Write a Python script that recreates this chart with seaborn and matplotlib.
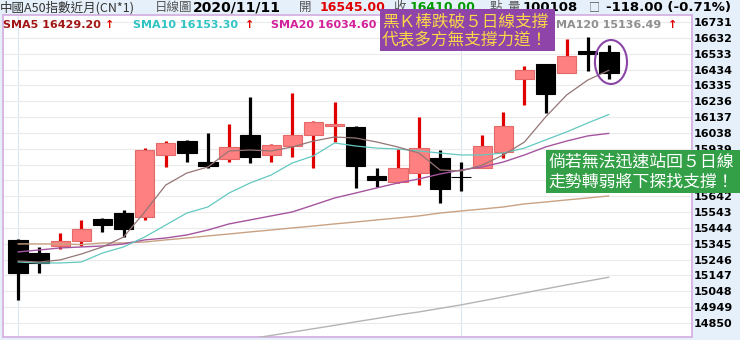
import numpy as np
import pandas as pd
import matplotlib
matplotlib.use("Agg")
import matplotlib.pyplot as plt
import seaborn as sns
from matplotlib.patches import Ellipse, Rectangle

# ---------------- data ----------------
opens  = [15368, 15287, 15331, 15362, 15500, 15537, 15512, 15900, 15987, 15856,
          15875, 16025, 15900, 15956, 16025, 16081, 16075, 15768, 15731, 15787,
          15881, 15764, 15818, 15918, 16375, 16468, 16412, 16550, 16545]
highs  = [15375, 15325, 15412, 15493, 15506, 15556, 15943, 15987, 15994, 16037,
          16093, 16262, 15969, 16287, 16112, 16231, 16081, 15818, 15937, 16137,
          15931, 15856, 16025, 16168, 16456, 16468, 16625, 16637, 16587]
lows   = [14994, 15162, 15312, 15331, 15418, 15387, 15493, 15825, 15856, 15818,
          15856, 15850, 15856, 15887, 15818, 15981, 15693, 15700, 15725, 15712,
          15600, 15675, 15818, 15881, 16212, 16162, 16412, 16425, 16375]
closes = [15162, 15225, 15362, 15437, 15462, 15437, 15931, 15975, 15912, 15831,
          15950, 15887, 15962, 16025, 16106, 16093, 15831, 15744, 15818, 15943,
          15687, 15760, 15956, 16081, 16431, 16281, 16518, 16528, 16410]

sma5   = [15237, 15231, 15244, 15281, 15325, 15387, 15543, 15712, 15787, 15825,
          15925, 15931, 15925, 15950, 15987, 16012, 16006, 15981, 15950, 15912,
          15806, 15800, 15837, 15900, 15981, 16137, 16275, 16368, 16429]
sma10  = [15231, 15225, 15225, 15231, 15287, 15325, 15387, 15462, 15537, 15575,
          15662, 15725, 15775, 15850, 15894, 15975, 15956, 15943, 15937, 15925,
          15912, 15900, 15900, 15912, 15943, 15994, 16044, 16100, 16153]
sma20  = [15294, 15306, 15319, 15325, 15331, 15344, 15369, 15381, 15400, 15431,
          15469, 15494, 15519, 15544, 15587, 15631, 15662, 15694, 15725, 15750,
          15781, 15806, 15825, 15856, 15900, 15950, 15987, 16019, 16035]
sma60  = [15344, 15344, 15344, 15340, 15350, 15350, 15356, 15369, 15381, 15394,
          15406, 15419, 15431, 15444, 15456, 15469, 15481, 15494, 15506, 15519,
          15537, 15550, 15562, 15575, 15594, 15606, 15619, 15631, 15644]
sma120 = [np.nan] * 11 + [14752, 14772, 14793, 14814, 14835, 14857, 14878, 14900,
          14919, 14941, 14963, 14988, 15013, 15038, 15063, 15088, 15112, 15136]

ytick_values = [16731, 16632, 16533, 16434, 16335, 16236, 16137, 16038, 15939, 15840,
                15741, 15642, 15543, 15444, 15345, 15246, 15147, 15048, 14949, 14850]
hidden_ticks = [15840, 15741]   # covered by the green note in the reference

legend_names  = ["SMA5", "SMA10", "SMA20", "SMA120"]
legend_values = ["16429.20", "16153.30", "16034.60", "15136.49"]

title_name   = "中國A50指數近月(CN*1)"
title_kind   = "日線圖"
title_date   = "2020/11/11"
title_open   = "16545.00"
title_close  = "16410.00"
title_volume = "100108"
title_change = "-118.00 (-0.71%)"

note1 = ["黑Ｋ棒跌破５日線支撐", "代表多方無支撐力道！"]
note2 = ["倘若無法迅速站回５日線", "走勢轉弱將下探找支撐！"]

# ---------------- style ----------------
sns.set_theme(style="white")
plt.rcParams["font.family"] = ["DejaVu Sans", "Noto Sans CJK TC"]
CJK = ["Noto Sans CJK TC", "DejaVu Sans"]

W, H = 740, 340
fig = plt.figure(figsize=(W / 100, H / 100), dpi=100, facecolor="#e6f0fa")


def fx(x):
    return x / W


def fy(y):
    return 1 - y / H


ax = fig.add_axes([fx(3), 3 / H, 689 / W, 322 / H])
ax.set_facecolor("white")

n = len(closes)
idx = np.arange(n)
df = pd.DataFrame({"i": idx, "open": opens, "high": highs, "low": lows, "close": closes})
up = df["close"] >= df["open"]

# grid
ax.set_yticks(ytick_values)
ax.set_yticklabels(["" if v in hidden_ticks else str(v) for v in ytick_values])
ax.yaxis.grid(True, color="#ebebeb", lw=0.8, zorder=0)
for gx in (0, 21):
    ax.axvline(gx, color="#d9e6ef", lw=0.8, zorder=0.5)

# wicks
ax.vlines(df.loc[up, "i"], df.loc[up, "low"], df.loc[up, "high"], color="#e00000", lw=2.3, zorder=2)
ax.vlines(df.loc[~up, "i"], df.loc[~up, "low"], df.loc[~up, "high"], color="black", lw=2.3, zorder=2)

# bodies
bw = 0.92
ax.bar(df.loc[up, "i"], (df.loc[up, "close"] - df.loc[up, "open"]).abs(),
       bottom=df.loc[up, ["open", "close"]].min(axis=1), width=bw,
       color="#ff8080", edgecolor="#e46a6a", lw=0.8, zorder=3)
ax.bar(df.loc[~up, "i"], (df.loc[~up, "close"] - df.loc[~up, "open"]).abs(),
       bottom=df.loc[~up, ["open", "close"]].min(axis=1), width=bw,
       color="black", edgecolor="black", lw=0.8, zorder=3)

# moving averages
ma_series = [(sma120, "#b4b4b4", 1.0), (sma60, "#c9a283", 1.0), (sma20, "#a5559f", 1.0),
             (sma10, "#62c9c1", 0.9), (sma5, "#957575", 0.9)]
for vals, col, lw in ma_series:
    sns.lineplot(x=idx, y=vals, ax=ax, color=col, lw=lw, zorder=4, estimator=None, sort=False)

ax.set_xlim(-0.711, 31.94)
ax.set_ylim(14762.25, 16774.75)
ax.set_xticks([])
ax.set_xlabel("")
ax.set_ylabel("")
ax.yaxis.tick_right()
ax.tick_params(axis="y", length=0, pad=1.5, labelsize=8)
for lab in ax.get_yticklabels():
    lab.set_fontweight("bold")
    lab.set_color("black")
for sp in ax.spines.values():
    sp.set_visible(True)
    sp.set_color("#d6b2e2")
    sp.set_linewidth(1.3)

# ellipse around last candle
last = n - 1
ax.add_patch(Ellipse((last + 0.1, (highs[last] + lows[last]) / 2), 1.52, 275,
                     fill=False, edgecolor="#8a46a6", lw=1.5, zorder=6))

# ---------------- header line ----------------
yh = fy(7.5)
fig.text(fx(0), yh, title_name, family=CJK, fontsize=9, color="#333333", va="center")
fig.text(fx(155), yh, title_kind, family=CJK, fontsize=9, color="#555555", va="center")
fig.text(fx(193), yh, title_date, fontsize=10, fontweight="bold", color="black", va="center")
fig.text(fx(299), yh, "開", family=CJK, fontsize=9, color="#555555", va="center")
fig.text(fx(320), yh, title_open, fontsize=9, fontweight="bold", color="#e00000", va="center")
fig.text(fx(393), yh, "收", family=CJK, fontsize=9, color="#555555", va="center")
fig.text(fx(410), yh, title_close, fontsize=9, fontweight="bold", color="#009a00", va="center")
fig.text(fx(490), yh, "點", family=CJK, fontsize=9, color="#555555", va="center")
fig.text(fx(507), yh, "量", family=CJK, fontsize=9, color="#555555", va="center")
fig.text(fx(523), yh, title_volume, fontsize=9.5, fontweight="bold", color="black", va="center")
fig.text(fx(589), yh, "□", family=CJK, fontsize=8, color="#555555", va="center")
fig.text(fx(606), yh, title_change, fontsize=9.5, fontweight="bold", color="black", va="center")

# ---------------- MA legend line ----------------
yl = fy(24.5)
leg_colors = ["#a31515", "#2fc4c4", "#d3209b", "#8f8f8f"]
leg_x = [3, 133, 271, 548]
arrow_x = [105, 245, None, 668]
for name, val, col, x0, ax0 in zip(legend_names, legend_values, leg_colors, leg_x, arrow_x):
    fig.text(fx(x0), yl, f"{name} {val}", fontsize=8, fontweight="bold", color=col, va="center")
    if ax0 is not None:
        fig.text(fx(ax0), yl, "↑", fontsize=8, fontweight="bold", color="#e00000", va="center")

# ---------------- annotation boxes ----------------
fig.add_artist(Rectangle((fx(380), fy(51)), 175 / W, 42 / H, transform=fig.transFigure,
                         facecolor="#8e44a8", edgecolor="none", zorder=10))
fig.text(fx(382), fy(22), note1[0], family=CJK, fontsize=12, color="#f8d848", va="center", zorder=11)
fig.text(fx(382), fy(41), note1[1], family=CJK, fontsize=12, color="#f8d848", va="center", zorder=11)

fig.add_artist(Rectangle((fx(546), fy(193)), 194 / W, 43 / H, transform=fig.transFigure,
                         facecolor="#33a047", edgecolor="none", zorder=10))
fig.text(fx(548), fy(162), note2[0], family=CJK, fontsize=12.2, color="white", va="center", zorder=11)
fig.text(fx(548), fy(182), note2[1], family=CJK, fontsize=12.2, color="white", va="center", zorder=11)

fig.savefig("out.png", dpi=100, facecolor=fig.get_facecolor())
